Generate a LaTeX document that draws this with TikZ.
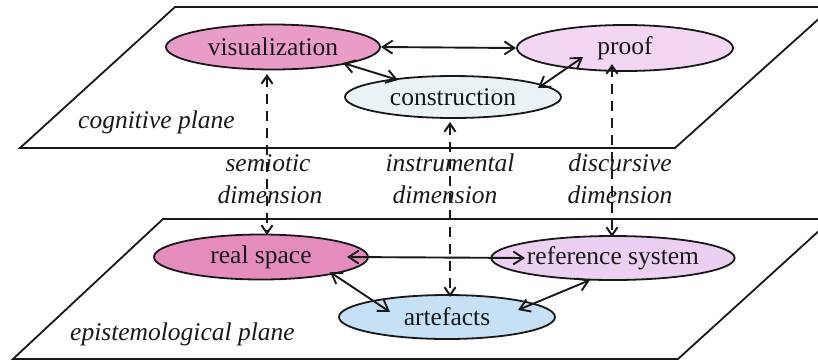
\documentclass[tikz,border=0pt]{standalone}
\usepackage{fontspec}
\setmainfont{Liberation Serif}
\newfontfamily\diagserif{Liberation Serif}
\usetikzlibrary{shapes.geometric,arrows.meta,calc}
\definecolor{pinkA}{RGB}{234,156,200}
\definecolor{pinkB}{RGB}{228,140,190}
\definecolor{lavA}{RGB}{242,214,243}
\definecolor{lavB}{RGB}{236,208,242}
\definecolor{paleblue}{RGB}{234,242,246}
\definecolor{lightblue}{RGB}{198,225,246}
\definecolor{ink}{RGB}{25,25,25}
\tikzset{
  tip/.tip={Straight Barb[length=10pt,width=13pt,line width=1.9pt]},
  dtip/.tip={Straight Barb[length=8pt,width=11pt,line width=2pt]},
  concept/.style={ellipse, draw=ink, line width=1.8pt, inner sep=0pt,
    font=\diagserif\fontsize{25.5}{28}\selectfont, text=ink},
  plane/.style={draw=ink, line width=1.8pt, fill=white, line join=miter},
  link/.style={draw=ink, line width=1.9pt, tip-tip},
  dimlink/.style={draw=ink, line width=2.4pt, dash pattern=on 10pt off 7pt, dtip-dtip},
  lbl/.style={font=\diagserif\itshape\fontsize{25.5}{28}\selectfont, text=ink, inner sep=0pt},
}
\begin{document}
\begin{tikzpicture}[x=1pt,y=-1pt]
\useasboundingbox (0,0) rectangle (818,362);
\clip (0,0) rectangle (818,362);
% planes
\draw[plane] (175,7) -- (832,7) -- (675,148) -- (20,148) -- cycle;
\draw[plane] (163,219) -- (832,219) -- (678,359) -- (13,359) -- cycle;
\node[lbl, anchor=west] (cog) at (78,122) {cognitive plane};
\node[lbl, anchor=west] (epi) at (70,334) {epistemological plane};
% cognitive nodes
\node[concept, fill=pinkA, minimum width=214pt, minimum height=45pt] (vis) at (273,47) {visualization};
\node[concept, fill=lavA, minimum width=216pt, minimum height=46pt] (proof) at (625,48) {proof};
\node[concept, fill=paleblue, minimum width=216pt, minimum height=42pt] (cons) at (453,97) {construction};
% epistemological nodes
\node[concept, fill=pinkB, minimum width=214pt, minimum height=45pt] (real) at (261,257) {real space};
\node[concept, fill=lavB, minimum width=216pt, minimum height=44pt] (ref) at (613,258) {reference system};
\node[concept, fill=lightblue, minimum width=216pt, minimum height=44pt] (art) at (447,317) {artefacts};
% dimension labels
\node[lbl] (semA) at (268,163) {semiotic};
\node[lbl] (semB) at (270,195) {dimension};
\node[lbl] (insA) at (450,163) {instrumental};
\node[lbl] (insB) at (445,195) {dimension};
\node[lbl] (disA) at (620,163) {discursive};
\node[lbl] (disB) at (620,195) {dimension};
% links in cognitive plane
\draw[link] (vis.east) -- (proof.west);
\draw[link] ($(vis.center)+(70,16)$) -- ($(cons.center)+(-55,-17)$);
\draw[link] ($(cons.center)+(85,-9)$) -- ($(proof.center)+(-42,9)$);
% links in epistemological plane
\draw[link] ($(real.center)+(86,0)$) -- ($(ref.center)+(-88,0)$);
\draw[link] ($(real.center)+(69,15)$) -- ($(art.center)+(-57,-5)$);
\draw[link] ($(art.center)+(71,-7)$) -- ($(ref.center)+(-23,22)$);
% dimension links
\draw[dimlink] ($(vis.center)+(-6,27)$) -- ($(real.center)+(6,-22)$);
\draw[dimlink] ($(cons.center)+(-3,25)$) -- ($(art.center)+(3,-20)$);
\draw[dimlink] ($(proof.center)+(-13,16)$) -- ($(ref.center)+(-1,-21)$);
\end{tikzpicture}
\end{document}
